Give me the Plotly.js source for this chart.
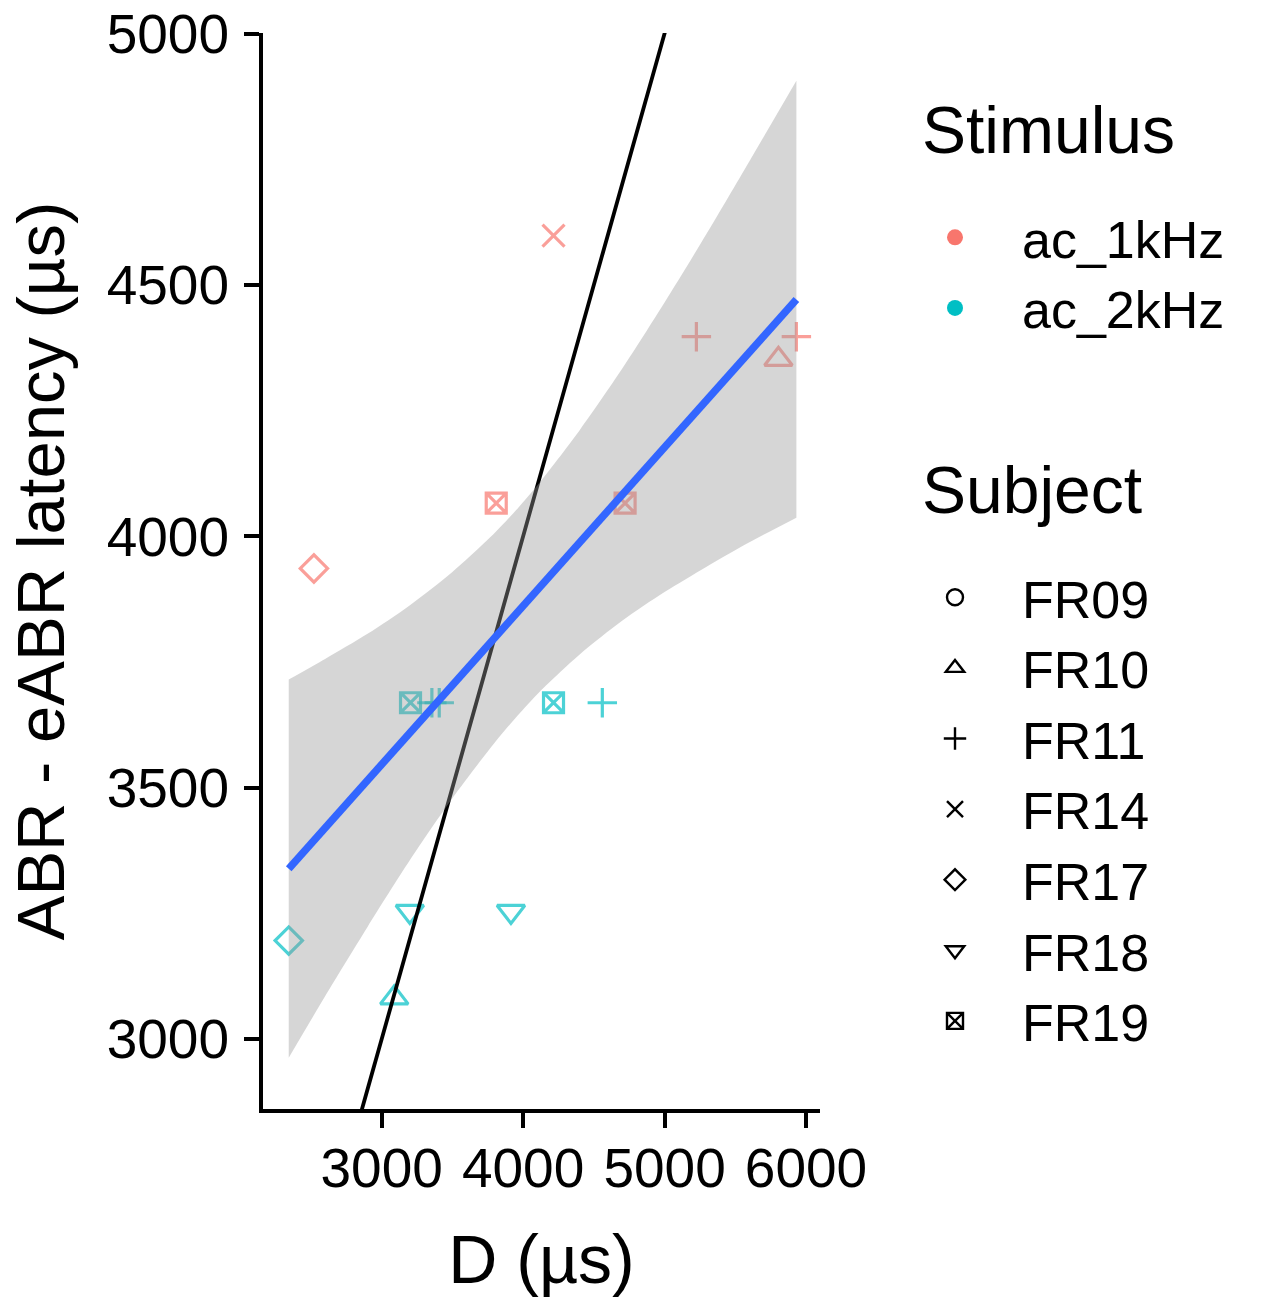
<!DOCTYPE html>
<html><head><meta charset="utf-8">
<script src="https://cdn.plot.ly/plotly-3.0.1.min.js"></script>
<style>html,body{margin:0;padding:0;background:#fff}</style>
</head><body><div id="chart" style="width:1263px;height:1302px"></div>
<script>
// ---- categories ----
const stimuli = ['ac_1kHz', 'ac_2kHz'];
const subjects = ['FR09', 'FR10', 'FR11', 'FR14', 'FR17', 'FR18', 'FR19'];

// ---- observations: ac_1kHz ----
const subj1kHz = ['FR14', 'FR11', 'FR11', 'FR10', 'FR19', 'FR19', 'FR17'];
const d1kHz    = [4215, 5225, 5932, 5805, 3810, 4721, 2521];
const lat1kHz  = [4598, 4397, 4397, 4352, 4066, 4066, 3936];

// ---- observations: ac_2kHz ----
const subj2kHz = ['FR19', 'FR11', 'FR11', 'FR19', 'FR11', 'FR18', 'FR18', 'FR17', 'FR10'];
const d2kHz    = [3204, 3355, 3407, 4215, 4560, 3199, 3914, 2343, 3089];
const lat2kHz  = [3669, 3669, 3669, 3669, 3669, 3254, 3254, 3196, 3082];

// ---- linear fit and its confidence band ----
const fitD   = [2343, 5932];
const fitLat = [3339, 4471];
const bandD     = [2343, 2600, 2900, 3200, 3500, 3800, 3963, 4100, 4400, 4700, 5000, 5300, 5600, 5932];
const bandUpper = [3715, 3756, 3806, 3863, 3929, 4007, 4056, 4101, 4211, 4333, 4465, 4603, 4746, 4906];
const bandLower = [2963, 3085, 3223, 3356, 3479, 3590, 3644, 3686, 3765, 3832, 3889, 3940, 3988, 4037];

// ---- identity reference line (y = x) ----
const identityVals = [2000, 6500];

// ---- ticks ----
const xTicks = [3000, 4000, 5000, 6000];
const yTicks = [3000, 3500, 4000, 4500, 5000];

// ---- styles ----
const stimColors = {'ac_1kHz': '#F8766D', 'ac_2kHz': '#00BFC4'};
const subjSymbol = {FR09: 'circle-open', FR10: 'triangle-up-open', FR11: 'cross-thin-open', FR14: 'x-thin-open',
                    FR17: 'diamond-open', FR18: 'triangle-down-open', FR19: 'square-x-open'};
const subjSize = {FR09: 15, FR10: 24, FR11: 21, FR14: 22, FR17: 21, FR18: 24, FR19: 20};
const FONT = 'Liberation Sans, Arial, Helvetica, sans-serif';

function pointTrace(subj, d, lat, stim) {
  return {
    type: 'scatter', mode: 'markers', x: d, y: lat, showlegend: false, hoverinfo: 'x+y',
    marker: {
      symbol: subj.map(s => subjSymbol[s]),
      size: subj.map(s => subjSize[s]),
      color: stimColors[stim],
      line: {width: 3.2, color: stimColors[stim]}
    }
  };
}

const traces = [
  pointTrace(subj1kHz, d1kHz, lat1kHz, 'ac_1kHz'),
  pointTrace(subj2kHz, d2kHz, lat2kHz, 'ac_2kHz'),
  {type: 'scatter', mode: 'lines', x: identityVals, y: identityVals, showlegend: false,
   line: {color: '#000000', width: 3.8}},
  {type: 'scatter', mode: 'lines', x: bandD, y: bandLower, showlegend: false,
   line: {width: 0, shape: 'spline', smoothing: 0.8}, hoverinfo: 'skip'},
  {type: 'scatter', mode: 'lines', x: bandD, y: bandUpper, showlegend: false, fill: 'tonexty',
   fillcolor: 'rgba(153,153,153,0.4)', line: {width: 0, shape: 'spline', smoothing: 0.8}, hoverinfo: 'skip'},
  {type: 'scatter', mode: 'lines', x: fitD, y: fitLat, showlegend: false,
   line: {color: '#3366FF', width: 7.5}}
];

stimuli.forEach(s => traces.push({
  type: 'scatter', mode: 'markers', x: [null], y: [null], name: s, legend: 'legend',
  marker: {symbol: 'circle', size: 16, color: stimColors[s]}
}));
subjects.forEach(s => traces.push({
  type: 'scatter', mode: 'markers', x: [null], y: [null], name: s, legend: 'legend2',
  marker: {symbol: subjSymbol[s], size: 16, color: '#000000', line: {width: 2.4, color: '#000000'}}
}));

const legendCommon = {
  xref: 'container', yref: 'container', xanchor: 'left', yanchor: 'top',
  bgcolor: 'rgba(0,0,0,0)', borderwidth: 0, itemwidth: 124, traceorder: 'normal',
  font: {family: FONT, size: 52, color: '#000000'}, tracegroupgap: 0,
  itemclick: false, itemdoubleclick: false
};

const layout = {
  width: 1263, height: 1302,
  margin: {l: 263, r: 443, t: 33, b: 193},
  paper_bgcolor: '#ffffff', plot_bgcolor: '#ffffff',
  font: {family: FONT, color: '#000000'},
  xaxis: {
    range: [2161, 6099], tickvals: xTicks, ticktext: xTicks.map(String),
    showgrid: false, zeroline: false, showline: true, linecolor: '#000000', linewidth: 4,
    ticks: 'outside', ticklen: 15, tickwidth: 4, tickcolor: '#000000',
    ticklabelstandoff: -7, ticklabeloverflow: 'allow',
    tickfont: {family: FONT, size: 55, color: '#000000'},
    title: {text: 'D (µs)', font: {family: FONT, size: 68, color: '#000000'}, standoff: 38}
  },
  yaxis: {
    range: [2861, 5001], tickvals: yTicks, ticktext: yTicks.map(String),
    showgrid: false, zeroline: false, showline: true, linecolor: '#000000', linewidth: 4,
    ticks: 'outside', ticklen: 15, tickwidth: 4, tickcolor: '#000000',
    ticklabelstandoff: 4, ticklabeloverflow: 'allow',
    tickfont: {family: FONT, size: 55, color: '#000000'},
    title: {text: 'ABR - eABR latency (µs)', font: {family: FONT, size: 67, color: '#000000'}, standoff: 21}
  },
  legend: Object.assign({}, legendCommon, {x: 888 / 1263, y: 1 - 197 / 1302}),
  legend2: Object.assign({}, legendCommon, {x: 888 / 1263, y: 1 - 557 / 1302}),
  annotations: [
    {text: 'Stimulus', xref: 'paper', yref: 'paper', x: (920 - 263) / 557, y: (1109 - 130) / 1076,
     xanchor: 'left', yanchor: 'middle', showarrow: false, font: {family: FONT, size: 66, color: '#000000'}},
    {text: 'Subject', xref: 'paper', yref: 'paper', x: (920 - 263) / 557, y: (1109 - 490) / 1076,
     xanchor: 'left', yanchor: 'middle', showarrow: false, font: {family: FONT, size: 66, color: '#000000'}}
  ],
  showlegend: true
};

Plotly.newPlot('chart', traces, layout, {displayModeBar: false, staticPlot: true});
</script>
</body></html>
